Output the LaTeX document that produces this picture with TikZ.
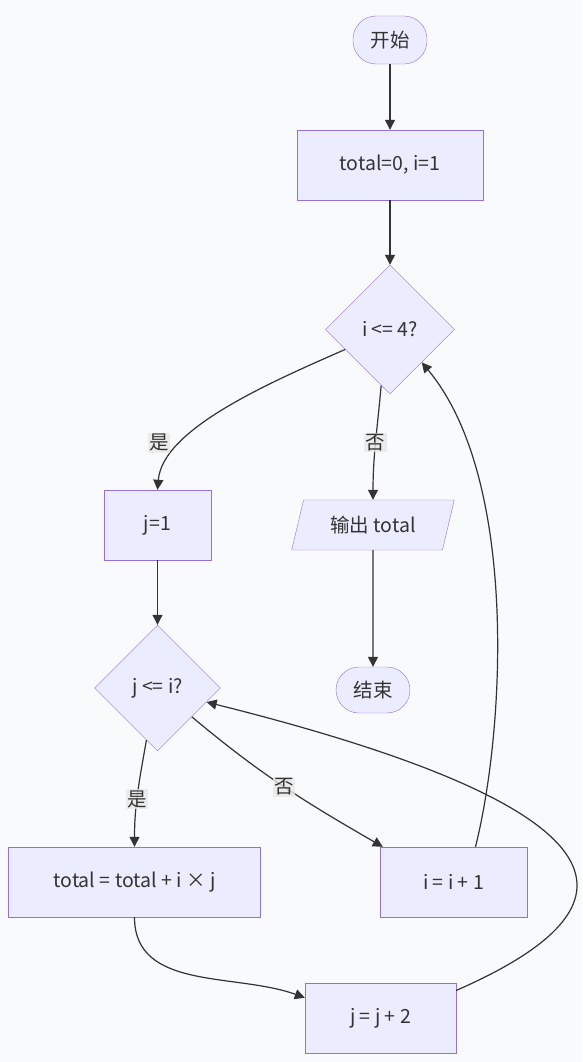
\documentclass[tikz,border=0pt]{standalone}
\usepackage{fontspec}
\setmainfont{Noto Sans CJK SC}
\usetikzlibrary{shapes.geometric, arrows.meta, positioning}

\begin{document}
\begin{tikzpicture}[x=1pt, y=1pt, node distance=125pt and 200pt, on grid]

	\definecolor{my_purple}{RGB}{147,112,219}
\definecolor{my_lavender}{RGB}{236,236,255}

\definecolor{my_gray_dark}{RGB}{51,51,51}
\definecolor{my_label}{RGB}{232,232,232}
\definecolor{my_back}{RGB}{249,250,252}

\tikzstyle{every node} = [font=\fontsize{19.5}{23}\selectfont, text=my_gray_dark]
\tikzstyle{decision} = [diamond, draw=my_purple, fill=my_lavender, minimum size=129pt, inner sep=0pt]
\tikzstyle{block} = [rectangle, draw=my_purple, fill=my_lavender, minimum width=186pt, minimum height=70pt]
\tikzstyle{blockio} = [trapezium, trapezium left angle=68, trapezium right angle=112, trapezium stretches=true, draw=my_purple, fill=my_lavender, minimum width=163pt, minimum height=50pt, inner sep=0pt]
\tikzstyle{terminal} = [rectangle, rounded corners=23pt, draw=my_purple, fill=my_lavender, minimum width=74pt, minimum height=48pt]
\tikzstyle{edgelabel} = [fill=my_label, fill opacity=0.8, text opacity=1, inner sep=1.5pt]
\tikzstyle{line} = [draw=my_gray_dark, line width=1.2pt, -{Triangle[length=10pt, width=10pt]}]

	\useasboundingbox (0,0) rectangle (582,-1062);
	\fill [my_back] (0,0) rectangle (582,-1062);

	\node [terminal] at (390,-40) (start) {开始};

	\node [block, below=125pt of start] (init) {total=0, i=1};

	\node [decision, below=164.5pt of init] (check_i) {i <= 4?};

	\node [block, below left=195.5pt and 232.5pt of check_i, minimum width=107pt] (set_j) {j=1};

	\node [blockio, below left=195.5pt and 17pt of check_i] (output) {输出 total};

	\node [terminal, below=165pt of output, minimum height=46pt] (stop) {结束};

	\node [decision, below=163pt of set_j, minimum size=126pt] (check_j) {j <= i?};

	\node [block, below left=194pt and 23pt of check_j, minimum width=252pt] (add) {total = total + i × j};

	\node [block, right=319pt of add, minimum width=147pt] (inc_i) {i = i + 1};

	\node [block, below right=136pt and 246pt of add, minimum width=151pt] (inc_j) {j = j + 2};


	\path [line] (start) -- (init);
	\path [line] (init) -- (check_i);
	\path [line] (check_i.204) .. controls +(-80,-35) and +(5,60) .. node [edgelabel, pos=0.72, xshift=-23pt] {是} (set_j.north);
	\path [line] (check_i.261) to[out=265, in=90] node [edgelabel, pos=0.5] {否} (output);
	\path [line] (output) -- (stop);

	\path [line] (set_j) -- (check_j);
	\path [line] (check_j.258) to[out=260, in=90] node [edgelabel, pos=0.56] {是} (add);
	\path [line] (check_j.320) to[out=320, in=150] node [edgelabel, pos=0.5] {否} ([xshift=3pt]inc_i.north west);
	\path [line] (add) to[out=270, in=160] (inc_j.165);
	\path [line] (inc_j.20) .. controls +(160,70) and +(480,-120) .. (check_j.344);
	\path [line] (inc_i.58) .. controls +(30,120) and +(96,-115) .. (check_i.314);
%	\path [line] (inc_j) -| (check_j);

\end{tikzpicture}
\end{document}
